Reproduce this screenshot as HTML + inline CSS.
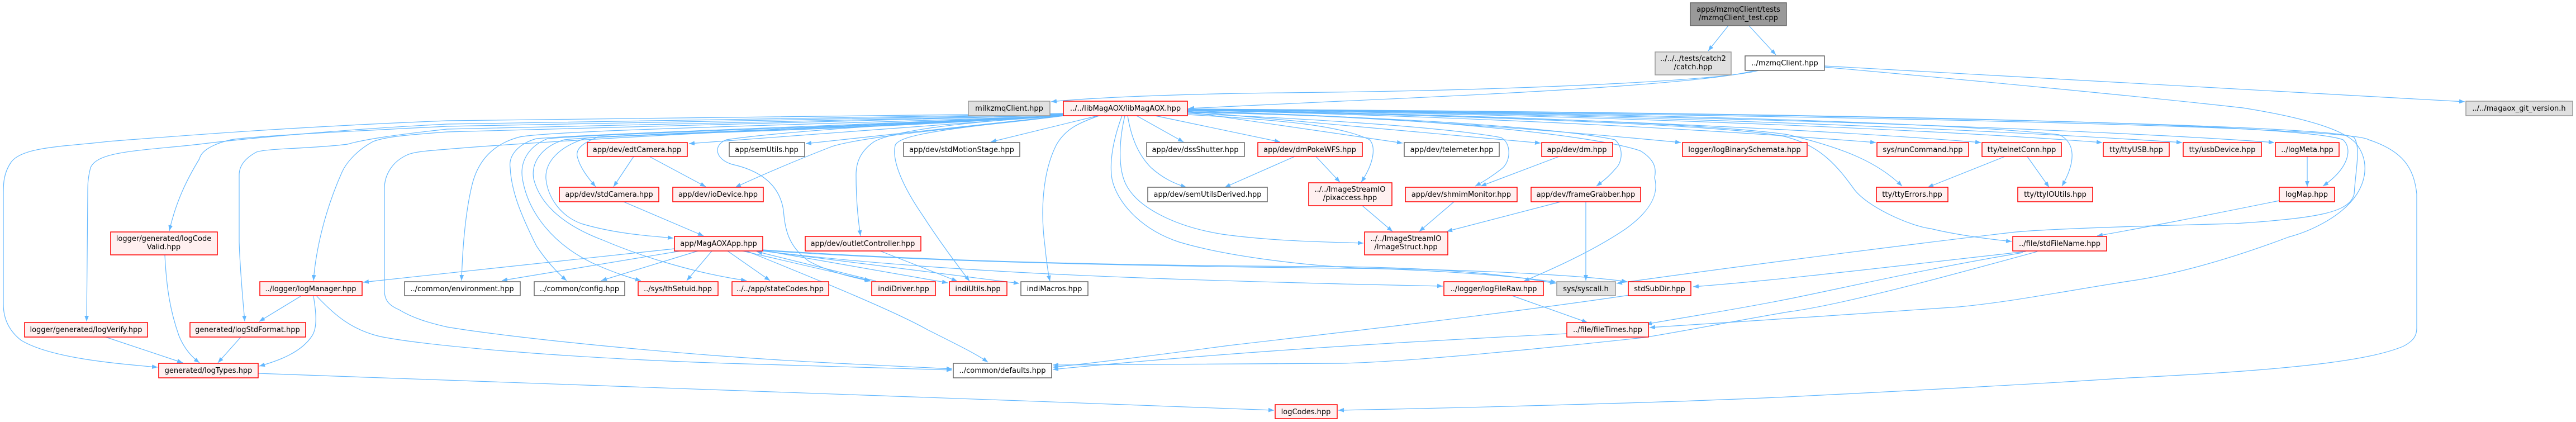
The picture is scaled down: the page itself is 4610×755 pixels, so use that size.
<!DOCTYPE html>
<html><head><meta charset="utf-8"><style>
html,body{margin:0;padding:0;background:#fff;}
svg{display:block;}
text{font-family:"DejaVu Sans","Liberation Sans",sans-serif;font-size:13px;fill:#000;text-anchor:middle;}
.e{fill:none;stroke:#63b8ff;stroke-width:1.2;marker-end:url(#a);}
.r{fill:#fff0f0;stroke:#ff0000;stroke-width:1.5;}
.w{fill:#ffffff;stroke:#666666;stroke-width:1.5;}
.g{fill:#e0e0e0;stroke:#999999;stroke-width:1.5;}
.d{fill:#999999;stroke:#666666;stroke-width:1.5;}
</style></head><body>
<svg width="4610" height="755" viewBox="0 0 4610 755" xmlns="http://www.w3.org/2000/svg">
<defs><marker id="a" markerWidth="12" markerHeight="10" refX="10" refY="4.5" orient="auto" markerUnits="userSpaceOnUse"><path d="M0,0.6 L10,4.5 L0,8.4 z" fill="#63b8ff"/></marker></defs>
<rect width="4610" height="755" fill="#fff"/>
<g>
<!-- top edges -->
<path class="e" d="M3093,46 L3057,91"/>
<path class="e" d="M3130,46 L3178,98"/>
<path class="e" d="M3147,126 C3080,145 2700,162 2300,166 C2100,168 1950,175 1881,182"/>
<path class="e" d="M3140,126 C3050,152 2600,172 2400,181 C2300,185 2200,190 2127,194"/>
<path class="e" d="M3265,118 C3700,140 4100,162 4411,182"/>
<path class="e" d="M3265,120 C3600,150 3900,180 4014,193 C4120,210 4190,230 4215,255 C4240,285 4235,320 4218,347 C4190,390 4130,415 4096,424 C4000,460 3900,490 3810,503 C3700,520 3600,540 3506,549 C3350,560 3050,580 2952,586"/>
<!-- left bundle from libMagAOX -->
<path class="e" d="M1903,203 C1500,208 1000,212 800,216 C500,228 300,245 194,253 C120,262 40,262 20,290 C6,310 6,330 6,347 L6,544 C6,575 20,595 38,609 C90,640 200,650 282,657"/>
<path class="e" d="M1903,204 C1400,212 1000,216 800,222 C600,232 420,250 357,258 C250,270 175,270 162,300 C157,320 157,330 157,347 L155,575"/>
<path class="e" d="M1903,205 C1400,214 1000,220 800,226 C600,236 450,244 413,250 C380,258 360,270 357,284 C335,320 315,360 303,413"/>
<path class="e" d="M1903,206 C1400,216 1000,224 800,231 C700,242 650,250 622,258 C560,266 480,265 459,272 C435,285 428,300 428,313 L428,433 C430,490 435,540 438,575"/>
<path class="e" d="M1903,206 C1400,220 1000,228 800,236 C720,242 690,245 668,253 C640,268 620,290 612,308 C580,380 565,450 561,502"/>
<path class="e" d="M1903,207 C1500,225 1000,250 800,267 C760,270 740,272 729,277 C700,290 688,315 688,337 L688,520 C688,540 700,548 714,554 C740,570 770,578 800,585 C900,602 1200,635 1500,650 C1600,655 1660,658 1704,660"/>
<path class="e" d="M1903,207 C1500,222 1000,232 930,245 C880,258 855,290 845,330 C835,370 828,430 826,502"/>
<path class="e" d="M1903,207 C1500,225 1050,240 960,248 C925,258 910,280 913,300 C915,340 930,380 960,440 C980,470 1000,490 1014,502"/>
<path class="e" d="M1903,207 C1500,228 1100,238 980,248 C945,262 930,290 935,320 C945,380 990,440 1070,475 C1100,488 1130,498 1147,502"/>
<path class="e" d="M1903,207 C1500,230 1100,240 1010,250 C970,262 950,290 955,320 C965,360 1000,400 1080,430 C1150,460 1250,490 1336,502"/>
<path class="e" d="M1903,207 C1500,232 1150,240 1050,247 C1000,262 975,290 977,320 C980,350 1000,385 1040,400 C1100,418 1160,422 1205,426"/>
<path class="e" d="M1903,207 C1500,234 1150,240 1070,245 C1045,255 1030,265 1033,280 C1038,300 1052,318 1066,334"/>
<path class="e" d="M1903,207 C1800,215 1600,229 1233,257"/>
<path class="e" d="M1903,207 C1800,218 1600,240 1442,257"/>
<path class="e" d="M1903,207 C1800,222 1560,240 1489,262 C1430,285 1370,310 1316,335"/>
<path class="e" d="M1903,207 C1700,220 1600,235 1565,253 C1540,270 1532,290 1532,313 C1532,350 1535,390 1540,422"/>
<path class="e" d="M1903,207 C1700,215 1400,235 1300,250 C1275,260 1280,285 1310,294 C1360,305 1395,330 1402,376 C1405,410 1410,440 1447,467 C1480,485 1520,495 1558,503"/>
<path class="e" d="M1905,207 C1700,230 1610,240 1602,260 C1595,290 1620,340 1651,385 C1680,430 1710,470 1735,503"/>
<path class="e" d="M1967,207 C1930,220 1906,231 1890,260 C1865,310 1862,380 1870,440 C1873,470 1876,490 1879,503"/>
<path class="e" d="M1965,207 L1773,254"/>
<!-- libMagAOX downward/right -->
<path class="e" d="M2034,207 L2118,254"/>
<path class="e" d="M2067,207 L2291,254"/>
<path class="e" d="M2018,207 C2025,250 2039,279 2060,300 C2080,318 2100,328 2123,335"/>
<path class="e" d="M2008,207 C1992,250 1985,290 1990,320 C1998,360 2040,410 2110,433 C2200,460 2350,477 2450,480 C2600,485 2720,495 2785,505"/>
<path class="e" d="M2013,207 C2003,250 2000,300 2015,330 C2035,370 2100,405 2187,419 C2280,432 2380,433 2440,435"/>
<path class="e" d="M2125,205 C2300,215 2400,225 2451,250 C2462,262 2460,290 2436,326"/>
<path class="e" d="M2125,203 C2400,215 2600,230 2686,246 C2705,255 2705,290 2686,303 C2670,315 2660,322 2640,333"/>
<path class="e" d="M2125,201 C2500,208 2800,230 2890,250 C2905,262 2905,290 2890,303 C2880,315 2870,323 2857,333"/>
<path class="e" d="M2125,200 C2500,205 2850,240 2936,270 C2960,285 2965,300 2961,318 C2970,350 2950,380 2910,409 C2850,450 2770,485 2727,503"/>
<path class="e" d="M2125,200 L2510,256"/>
<path class="e" d="M2125,199 L2757,256"/>
<path class="e" d="M2125,198 C2500,210 2800,235 3008,255"/>
<path class="e" d="M2125,197 C2700,210 3100,235 3357,255"/>
<path class="e" d="M2125,196 C2800,208 3300,235 3545,255"/>
<path class="e" d="M2125,196 C2900,205 3500,235 3762,255"/>
<path class="e" d="M2125,195 C3000,205 3600,235 3905,255"/>
<path class="e" d="M2125,195 C3100,205 3800,235 4070,255"/>
<path class="e" d="M2125,197 C2700,205 3100,225 3200,241 C3300,265 3360,290 3404,333"/>
<path class="e" d="M2125,196 C2900,200 3500,220 3685,241 C3715,255 3715,290 3690,333"/>
<path class="e" d="M2125,197 C2800,210 3150,230 3200,246 C3260,262 3290,300 3317,337 C3340,370 3420,405 3455,409 C3500,420 3560,428 3600,432"/>
<path class="e" d="M2125,195 C3000,200 4100,215 4193,250 C4210,265 4205,300 4157,333"/>
<path class="e" d="M2125,195 C3000,200 4180,220 4213,246 C4225,265 4216,300 4213,347 C4205,380 4150,390 4000,400 C3800,405 3650,410 3599,416 C3350,445 3050,485 2893,507"/>
<path class="e" d="M2125,195 C3200,205 4200,225 4239,250 C4300,270 4320,300 4325,347 L4325,587 C4325,600 4320,610 4300,620 C4250,640 4150,660 3810,676 C3600,690 3300,705 3200,710 C3000,720 2600,730 2395,734"/>
<!-- mid level -->
<path class="e" d="M538,530 L464,575"/>
<path class="e" d="M561,530 C566,560 568,585 559,600 C540,630 500,645 464,655"/>
<path class="e" d="M567,530 C600,565 630,590 680,602 C760,618 1000,640 1300,650 C1500,656 1650,660 1704,662"/>
<path class="e" d="M189,603 L327,649"/>
<path class="e" d="M295,456 C298,520 306,560 320,600 C330,625 345,640 357,649"/>
<path class="e" d="M431,603 L390,649"/>
<path class="e" d="M462,668 C800,680 1600,708 2280,734"/>
<path class="e" d="M1207,445 C1000,468 800,488 650,505"/>
<path class="e" d="M1134,280 L1098,334"/>
<path class="e" d="M1162,280 L1263,334"/>
<path class="e" d="M1116,361 L1259,422"/>
<path class="e" d="M1218,449 L898,502"/>
<path class="e" d="M1249,449 L1076,502"/>
<path class="e" d="M1274,449 L1229,502"/>
<path class="e" d="M1302,449 L1378,502"/>
<path class="e" d="M1329,449 L1557,502"/>
<path class="e" d="M1568,503 L1354,450"/>
<path class="e" d="M1365,448 L1696,506"/>
<path class="e" d="M1365,449 L1824,507"/>
<path class="e" d="M1336,449 C1450,495 1600,556 1660,590 C1720,620 1750,635 1768,648"/>
<path class="e" d="M1365,447 C1700,470 2100,476 2400,477 C2600,480 2700,492 2784,507"/>
<path class="e" d="M1365,448 C1700,472 2200,478 2500,481 C2700,485 2850,495 2912,504"/>
<path class="e" d="M1365,449 C1700,490 2100,500 2400,508 C2500,510 2560,511 2582,512"/>
<path class="e" d="M1575,449 L1713,503"/>
<path class="e" d="M2317,280 L2192,335"/>
<path class="e" d="M2355,280 L2398,326"/>
<path class="e" d="M2790,280 L2650,333"/>
<path class="e" d="M2438,368 L2492,414"/>
<path class="e" d="M2602,361 L2540,414"/>
<path class="e" d="M2793,361 L2589,414"/>
<path class="e" d="M2838,361 L2838,502"/>
<path class="e" d="M2706,529 L2841,577"/>
<path class="e" d="M3588,280 L3450,335"/>
<path class="e" d="M3628,280 L3667,335"/>
<path class="e" d="M4129,280 L4129,334"/>
<path class="e" d="M4079,359 C3950,385 3850,405 3753,422"/>
<path class="e" d="M3625,450 C3400,475 3200,500 3030,513"/>
<path class="e" d="M3620,452 C3450,480 3300,515 3200,535 C3100,555 3000,570 2946,580"/>
<path class="e" d="M3646,450 C3500,490 3300,545 3200,558 C3100,575 3000,595 2941,604 C2700,630 2500,648 2400,650 C2200,652 2000,653 1884,653"/>
<path class="e" d="M2916,528 C2700,560 2400,595 2200,618 C2050,638 1950,650 1884,657"/>
<path class="e" d="M2804,597 C2500,612 2200,630 1884,661"/>
</g>
<g>
<!-- nodes -->
<rect class="d" x="3025" y="5" width="172" height="41"/><text x="3111" y="21">apps/mzmqClient/tests</text><text x="3111" y="36">/mzmqClient_test.cpp</text>
<rect class="g" x="2962" y="93" width="136" height="41"/><text x="3030" y="109">../../../tests/catch2</text><text x="3030" y="124">/catch.hpp</text>
<rect class="w" x="3123" y="100" width="142" height="26"/><text x="3194" y="117">../mzmqClient.hpp</text>
<rect class="g" x="1733" y="181" width="146" height="26"/><text x="1806" y="198">milkzmqClient.hpp</text>
<rect class="r" x="1903" y="181" width="222" height="26"/><text x="2014" y="198">../../libMagAOX/libMagAOX.hpp</text>
<rect class="g" x="4413" y="181" width="191" height="26"/><text x="4508" y="198">../../magaox_git_version.h</text>

<rect class="w" x="1617" y="255" width="208" height="25"/><text x="1721" y="272">app/dev/stdMotionStage.hpp</text>
<rect class="r" x="1051" y="255" width="179" height="25"/><text x="1140" y="272">app/dev/edtCamera.hpp</text>
<rect class="w" x="1305" y="255" width="135" height="25"/><text x="1372" y="272">app/semUtils.hpp</text>
<rect class="w" x="2052" y="255" width="175" height="25"/><text x="2139" y="272">app/dev/dssShutter.hpp</text>
<rect class="r" x="2251" y="255" width="187" height="25"/><text x="2344" y="272">app/dev/dmPokeWFS.hpp</text>
<rect class="w" x="2513" y="255" width="170" height="25"/><text x="2598" y="272">app/dev/telemeter.hpp</text>
<rect class="r" x="2759" y="255" width="127" height="25"/><text x="2822" y="272">app/dev/dm.hpp</text>
<rect class="r" x="3011" y="255" width="223" height="25"/><text x="3122" y="272">logger/logBinarySchemata.hpp</text>
<rect class="r" x="3359" y="255" width="164" height="25"/><text x="3441" y="272">sys/runCommand.hpp</text>
<rect class="r" x="3547" y="255" width="142" height="25"/><text x="3618" y="272">tty/telnetConn.hpp</text>
<rect class="r" x="3764" y="255" width="118" height="25"/><text x="3823" y="272">tty/ttyUSB.hpp</text>
<rect class="r" x="3907" y="255" width="140" height="25"/><text x="3977" y="272">tty/usbDevice.hpp</text>
<rect class="r" x="4072" y="255" width="114" height="25"/><text x="4129" y="272">../logMeta.hpp</text>

<rect class="r" x="1001" y="335" width="178" height="26"/><text x="1090" y="352">app/dev/stdCamera.hpp</text>
<rect class="r" x="1204" y="335" width="162" height="26"/><text x="1285" y="352">app/dev/ioDevice.hpp</text>
<rect class="w" x="2054" y="335" width="214" height="26"/><text x="2161" y="352">app/dev/semUtilsDerived.hpp</text>
<rect class="r" x="2342" y="327" width="149" height="41"/><text x="2416" y="343">../../ImageStreamIO</text><text x="2416" y="358">/pixaccess.hpp</text>
<rect class="r" x="2515" y="335" width="200" height="26"/><text x="2615" y="352">app/dev/shmimMonitor.hpp</text>
<rect class="r" x="2740" y="335" width="196" height="26"/><text x="2838" y="352">app/dev/frameGrabber.hpp</text>
<rect class="r" x="3358" y="335" width="128" height="26"/><text x="3422" y="352">tty/ttyErrors.hpp</text>
<rect class="r" x="3611" y="335" width="134" height="26"/><text x="3678" y="352">tty/ttyIOUtils.hpp</text>
<rect class="r" x="4079" y="335" width="99" height="26"/><text x="4128" y="352">logMap.hpp</text>

<rect class="r" x="198" y="415" width="191" height="41"/><text x="293" y="431">logger/generated/logCode</text><text x="293" y="446">Valid.hpp</text>
<rect class="r" x="1207" y="423" width="158" height="26"/><text x="1286" y="440">app/MagAOXApp.hpp</text>
<rect class="r" x="1441" y="423" width="207" height="26"/><text x="1544" y="440">app/dev/outletController.hpp</text>
<rect class="r" x="2442" y="415" width="149" height="41"/><text x="2516" y="431">../../ImageStreamIO</text><text x="2516" y="446">/ImageStruct.hpp</text>
<rect class="r" x="3602" y="423" width="168" height="26"/><text x="3686" y="440">../file/stdFileName.hpp</text>

<rect class="r" x="465" y="504" width="183" height="25"/><text x="556" y="521">../logger/logManager.hpp</text>
<rect class="w" x="724" y="504" width="207" height="25"/><text x="827" y="521">../common/environment.hpp</text>
<rect class="w" x="956" y="504" width="162" height="25"/><text x="1037" y="521">../common/config.hpp</text>
<rect class="r" x="1142" y="504" width="143" height="25"/><text x="1213" y="521">../sys/thSetuid.hpp</text>
<rect class="r" x="1310" y="504" width="173" height="25"/><text x="1396" y="521">../../app/stateCodes.hpp</text>
<rect class="r" x="1560" y="504" width="114" height="25"/><text x="1617" y="521">indiDriver.hpp</text>
<rect class="r" x="1699" y="504" width="103" height="25"/><text x="1750" y="521">indiUtils.hpp</text>
<rect class="w" x="1827" y="504" width="120" height="25"/><text x="1887" y="521">indiMacros.hpp</text>
<rect class="r" x="2584" y="504" width="178" height="25"/><text x="2673" y="521">../logger/logFileRaw.hpp</text>
<rect class="g" x="2786" y="504" width="105" height="25"/><text x="2838" y="521">sys/syscall.h</text>
<rect class="r" x="2914" y="504" width="112" height="25"/><text x="2970" y="521">stdSubDir.hpp</text>

<rect class="r" x="44" y="577" width="220" height="26"/><text x="154" y="594">logger/generated/logVerify.hpp</text>
<rect class="r" x="340" y="577" width="207" height="26"/><text x="443" y="594">generated/logStdFormat.hpp</text>
<rect class="r" x="2804" y="577" width="146" height="26"/><text x="2877" y="594">../file/fileTimes.hpp</text>

<rect class="r" x="284" y="650" width="178" height="26"/><text x="373" y="667">generated/logTypes.hpp</text>
<rect class="w" x="1706" y="650" width="176" height="26"/><text x="1794" y="667">../common/defaults.hpp</text>

<rect class="r" x="2282" y="724" width="111" height="25"/><text x="2337" y="741">logCodes.hpp</text>
</g>
</svg>
</body></html>
